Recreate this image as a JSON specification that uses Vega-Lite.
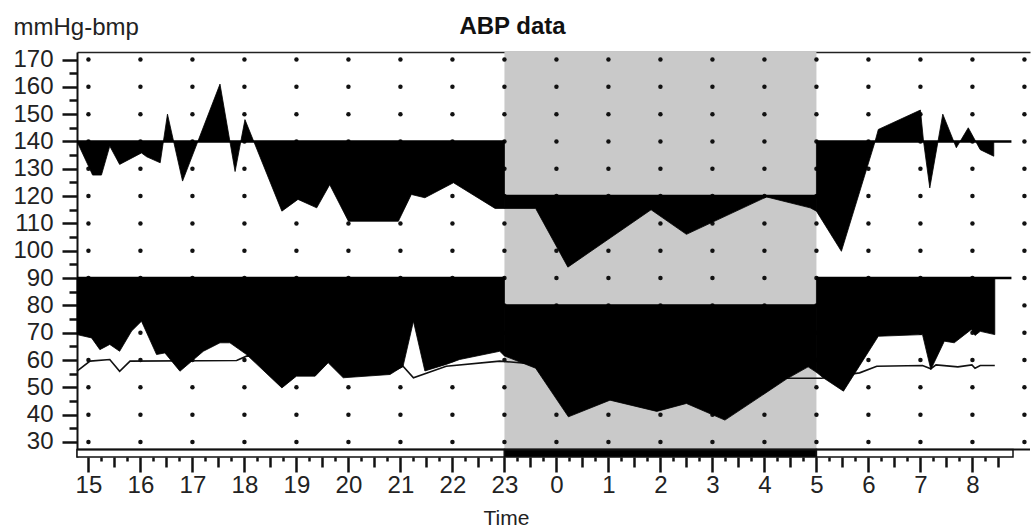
{
"$schema": "https://vega.github.io/schema/vega-lite/v6.json",
"width": 953, "height": 405,
"autosize": "none",
"padding": {"left": 77, "top": 52, "right": 1, "bottom": 72},
"background": "white",
"config": {"view": {"stroke": null}, "font": "Liberation Sans", "axis": {"grid": false, "labelFont": "Liberation Sans", "titleFont": "Liberation Sans"}},
"resolve": {"axis": {"x": "independent", "y": "independent"}},
"datasets": {
"dots": [
{"h":15,"v":30},{"h":15,"v":40},{"h":15,"v":50},{"h":15,"v":60},{"h":15,"v":70},{"h":15,"v":80},{"h":15,"v":90},{"h":15,"v":100},{"h":15,"v":110},{"h":15,"v":120},{"h":15,"v":130},{"h":15,"v":140},{"h":15,"v":150},{"h":15,"v":160},{"h":15,"v":170},
{"h":16,"v":30},{"h":16,"v":40},{"h":16,"v":50},{"h":16,"v":60},{"h":16,"v":70},{"h":16,"v":80},{"h":16,"v":90},{"h":16,"v":100},{"h":16,"v":110},{"h":16,"v":120},{"h":16,"v":130},{"h":16,"v":140},{"h":16,"v":150},{"h":16,"v":160},{"h":16,"v":170},
{"h":17,"v":30},{"h":17,"v":40},{"h":17,"v":50},{"h":17,"v":60},{"h":17,"v":70},{"h":17,"v":80},{"h":17,"v":90},{"h":17,"v":100},{"h":17,"v":110},{"h":17,"v":120},{"h":17,"v":130},{"h":17,"v":140},{"h":17,"v":150},{"h":17,"v":160},{"h":17,"v":170},
{"h":18,"v":30},{"h":18,"v":40},{"h":18,"v":50},{"h":18,"v":60},{"h":18,"v":70},{"h":18,"v":80},{"h":18,"v":90},{"h":18,"v":100},{"h":18,"v":110},{"h":18,"v":120},{"h":18,"v":130},{"h":18,"v":140},{"h":18,"v":150},{"h":18,"v":160},{"h":18,"v":170},
{"h":19,"v":30},{"h":19,"v":40},{"h":19,"v":50},{"h":19,"v":60},{"h":19,"v":70},{"h":19,"v":80},{"h":19,"v":90},{"h":19,"v":100},{"h":19,"v":110},{"h":19,"v":120},{"h":19,"v":130},{"h":19,"v":140},{"h":19,"v":150},{"h":19,"v":160},{"h":19,"v":170},
{"h":20,"v":30},{"h":20,"v":40},{"h":20,"v":50},{"h":20,"v":60},{"h":20,"v":70},{"h":20,"v":80},{"h":20,"v":90},{"h":20,"v":100},{"h":20,"v":110},{"h":20,"v":120},{"h":20,"v":130},{"h":20,"v":140},{"h":20,"v":150},{"h":20,"v":160},{"h":20,"v":170},
{"h":21,"v":30},{"h":21,"v":40},{"h":21,"v":50},{"h":21,"v":60},{"h":21,"v":70},{"h":21,"v":80},{"h":21,"v":90},{"h":21,"v":100},{"h":21,"v":110},{"h":21,"v":120},{"h":21,"v":130},{"h":21,"v":140},{"h":21,"v":150},{"h":21,"v":160},{"h":21,"v":170},
{"h":22,"v":30},{"h":22,"v":40},{"h":22,"v":50},{"h":22,"v":60},{"h":22,"v":70},{"h":22,"v":80},{"h":22,"v":90},{"h":22,"v":100},{"h":22,"v":110},{"h":22,"v":120},{"h":22,"v":130},{"h":22,"v":140},{"h":22,"v":150},{"h":22,"v":160},{"h":22,"v":170},
{"h":23,"v":30},{"h":23,"v":40},{"h":23,"v":50},{"h":23,"v":60},{"h":23,"v":70},{"h":23,"v":80},{"h":23,"v":90},{"h":23,"v":100},{"h":23,"v":110},{"h":23,"v":120},{"h":23,"v":130},{"h":23,"v":140},{"h":23,"v":150},{"h":23,"v":160},{"h":23,"v":170},
{"h":24,"v":30},{"h":24,"v":40},{"h":24,"v":50},{"h":24,"v":60},{"h":24,"v":70},{"h":24,"v":80},{"h":24,"v":90},{"h":24,"v":100},{"h":24,"v":110},{"h":24,"v":120},{"h":24,"v":130},{"h":24,"v":140},{"h":24,"v":150},{"h":24,"v":160},{"h":24,"v":170},
{"h":25,"v":30},{"h":25,"v":40},{"h":25,"v":50},{"h":25,"v":60},{"h":25,"v":70},{"h":25,"v":80},{"h":25,"v":90},{"h":25,"v":100},{"h":25,"v":110},{"h":25,"v":120},{"h":25,"v":130},{"h":25,"v":140},{"h":25,"v":150},{"h":25,"v":160},{"h":25,"v":170},
{"h":26,"v":30},{"h":26,"v":40},{"h":26,"v":50},{"h":26,"v":60},{"h":26,"v":70},{"h":26,"v":80},{"h":26,"v":90},{"h":26,"v":100},{"h":26,"v":110},{"h":26,"v":120},{"h":26,"v":130},{"h":26,"v":140},{"h":26,"v":150},{"h":26,"v":160},{"h":26,"v":170},
{"h":27,"v":30},{"h":27,"v":40},{"h":27,"v":50},{"h":27,"v":60},{"h":27,"v":70},{"h":27,"v":80},{"h":27,"v":90},{"h":27,"v":100},{"h":27,"v":110},{"h":27,"v":120},{"h":27,"v":130},{"h":27,"v":140},{"h":27,"v":150},{"h":27,"v":160},{"h":27,"v":170},
{"h":28,"v":30},{"h":28,"v":40},{"h":28,"v":50},{"h":28,"v":60},{"h":28,"v":70},{"h":28,"v":80},{"h":28,"v":90},{"h":28,"v":100},{"h":28,"v":110},{"h":28,"v":120},{"h":28,"v":130},{"h":28,"v":140},{"h":28,"v":150},{"h":28,"v":160},{"h":28,"v":170},
{"h":29,"v":30},{"h":29,"v":40},{"h":29,"v":50},{"h":29,"v":60},{"h":29,"v":70},{"h":29,"v":80},{"h":29,"v":90},{"h":29,"v":100},{"h":29,"v":110},{"h":29,"v":120},{"h":29,"v":130},{"h":29,"v":140},{"h":29,"v":150},{"h":29,"v":160},{"h":29,"v":170},
{"h":30,"v":30},{"h":30,"v":40},{"h":30,"v":50},{"h":30,"v":60},{"h":30,"v":70},{"h":30,"v":80},{"h":30,"v":90},{"h":30,"v":100},{"h":30,"v":110},{"h":30,"v":120},{"h":30,"v":130},{"h":30,"v":140},{"h":30,"v":150},{"h":30,"v":160},{"h":30,"v":170},
{"h":31,"v":30},{"h":31,"v":40},{"h":31,"v":50},{"h":31,"v":60},{"h":31,"v":70},{"h":31,"v":80},{"h":31,"v":90},{"h":31,"v":100},{"h":31,"v":110},{"h":31,"v":120},{"h":31,"v":130},{"h":31,"v":140},{"h":31,"v":150},{"h":31,"v":160},{"h":31,"v":170},
{"h":32,"v":30},{"h":32,"v":40},{"h":32,"v":50},{"h":32,"v":60},{"h":32,"v":70},{"h":32,"v":80},{"h":32,"v":90},{"h":32,"v":100},{"h":32,"v":110},{"h":32,"v":120},{"h":32,"v":130},{"h":32,"v":140},{"h":32,"v":150},{"h":32,"v":160},{"h":32,"v":170},
{"h":33,"v":30},{"h":33,"v":40},{"h":33,"v":50},{"h":33,"v":60},{"h":33,"v":70},{"h":33,"v":80},{"h":33,"v":90},{"h":33,"v":100},{"h":33,"v":110},{"h":33,"v":120},{"h":33,"v":130},{"h":33,"v":140},{"h":33,"v":150},{"h":33,"v":160},{"h":33,"v":170}
],
"sys": [
{"t":14.78,"sys":140,"thr":140,"seg":"d1"},{"t":15.0,"sys":131,"thr":140,"seg":"d1"},{"t":15.08,"sys":127.7,"thr":140,"seg":"d1"},{"t":15.25,"sys":127.7,"thr":140,"seg":"d1"},{"t":15.41,"sys":138.3,"thr":140,"seg":"d1"},{"t":15.6,"sys":131.6,"thr":140,"seg":"d1"},{"t":16.02,"sys":135.8,"thr":140,"seg":"d1"},{"t":16.12,"sys":134.4,"thr":140,"seg":"d1"},{"t":16.38,"sys":132.2,"thr":140,"seg":"d1"},{"t":16.52,"sys":150,"thr":140,"seg":"d1"},{"t":16.81,"sys":125.5,"thr":140,"seg":"d1"},{"t":17.53,"sys":161,"thr":140,"seg":"d1"},{"t":17.82,"sys":129,"thr":140,"seg":"d1"},{"t":18.01,"sys":148,"thr":140,"seg":"d1"},{"t":18.72,"sys":114.5,"thr":140,"seg":"d1"},{"t":19.03,"sys":118.8,"thr":140,"seg":"d1"},{"t":19.39,"sys":115.7,"thr":140,"seg":"d1"},{"t":19.64,"sys":124.2,"thr":140,"seg":"d1"},{"t":20.0,"sys":110.8,"thr":140,"seg":"d1"},{"t":20.96,"sys":110.8,"thr":140,"seg":"d1"},{"t":21.21,"sys":120.6,"thr":140,"seg":"d1"},{"t":21.47,"sys":119.4,"thr":140,"seg":"d1"},{"t":22.02,"sys":124.9,"thr":140,"seg":"d1"},{"t":22.82,"sys":115.5,"thr":140,"seg":"d1"},{"t":23.0,"sys":115.5,"thr":140,"seg":"d1"},
{"t":23.0,"sys":115.5,"thr":120,"seg":"n"},{"t":23.6,"sys":115.5,"thr":120,"seg":"n"},{"t":24.22,"sys":94,"thr":120,"seg":"n"},{"t":25.82,"sys":115,"thr":120,"seg":"n"},{"t":26.5,"sys":106,"thr":120,"seg":"n"},{"t":28.04,"sys":119.7,"thr":120,"seg":"n"},{"t":28.88,"sys":115.7,"thr":120,"seg":"n"},{"t":29.0,"sys":114.5,"thr":120,"seg":"n"},
{"t":29.0,"sys":114.5,"thr":140,"seg":"d2"},{"t":29.48,"sys":99.8,"thr":140,"seg":"d2"},{"t":30.12,"sys":139.5,"thr":140,"seg":"d2"},{"t":30.19,"sys":144.4,"thr":140,"seg":"d2"},{"t":31.0,"sys":151.5,"thr":140,"seg":"d2"},{"t":31.06,"sys":140,"thr":140,"seg":"d2"},{"t":31.18,"sys":123,"thr":140,"seg":"d2"},{"t":31.43,"sys":150,"thr":140,"seg":"d2"},{"t":31.69,"sys":137.7,"thr":140,"seg":"d2"},{"t":31.92,"sys":145,"thr":140,"seg":"d2"},{"t":32.15,"sys":137,"thr":140,"seg":"d2"},{"t":32.41,"sys":134.6,"thr":140,"seg":"d2"}
],
"dia": [
{"t":14.78,"dia":69.3,"thr":90,"seg":"d1"},{"t":15.06,"dia":68.1,"thr":90,"seg":"d1"},{"t":15.22,"dia":63.8,"thr":90,"seg":"d1"},{"t":15.41,"dia":65.7,"thr":90,"seg":"d1"},{"t":15.6,"dia":63.2,"thr":90,"seg":"d1"},{"t":15.83,"dia":70.6,"thr":90,"seg":"d1"},{"t":16.02,"dia":74.2,"thr":90,"seg":"d1"},{"t":16.31,"dia":62,"thr":90,"seg":"d1"},{"t":16.47,"dia":62.6,"thr":90,"seg":"d1"},{"t":16.76,"dia":55.9,"thr":90,"seg":"d1"},{"t":17.21,"dia":63.2,"thr":90,"seg":"d1"},{"t":17.53,"dia":66.3,"thr":90,"seg":"d1"},{"t":17.72,"dia":66.3,"thr":90,"seg":"d1"},{"t":18.04,"dia":62,"thr":90,"seg":"d1"},{"t":18.72,"dia":49.8,"thr":90,"seg":"d1"},{"t":19.0,"dia":54.1,"thr":90,"seg":"d1"},{"t":19.36,"dia":54.1,"thr":90,"seg":"d1"},{"t":19.61,"dia":59,"thr":90,"seg":"d1"},{"t":19.9,"dia":53.5,"thr":90,"seg":"d1"},{"t":20.8,"dia":54.7,"thr":90,"seg":"d1"},{"t":21.05,"dia":57.7,"thr":90,"seg":"d1"},{"t":21.25,"dia":74.2,"thr":90,"seg":"d1"},{"t":21.47,"dia":56,"thr":90,"seg":"d1"},{"t":21.88,"dia":58.4,"thr":90,"seg":"d1"},{"t":22.14,"dia":60.2,"thr":90,"seg":"d1"},{"t":22.91,"dia":63.2,"thr":90,"seg":"d1"},{"t":23.0,"dia":61.5,"thr":90,"seg":"d1"},
{"t":23.0,"dia":61.5,"thr":80,"seg":"n"},{"t":23.6,"dia":57,"thr":80,"seg":"n"},{"t":24.23,"dia":39.2,"thr":80,"seg":"n"},{"t":25.03,"dia":45.3,"thr":80,"seg":"n"},{"t":25.93,"dia":41.2,"thr":80,"seg":"n"},{"t":26.5,"dia":44.1,"thr":80,"seg":"n"},{"t":27.24,"dia":38,"thr":80,"seg":"n"},{"t":28.43,"dia":53.1,"thr":80,"seg":"n"},{"t":28.84,"dia":57.5,"thr":80,"seg":"n"},{"t":29.0,"dia":55.5,"thr":80,"seg":"n"},
{"t":29.0,"dia":55.5,"thr":90,"seg":"d2"},{"t":29.13,"dia":53.5,"thr":90,"seg":"d2"},{"t":29.52,"dia":48.6,"thr":90,"seg":"d2"},{"t":30.19,"dia":68.7,"thr":90,"seg":"d2"},{"t":31.04,"dia":69.3,"thr":90,"seg":"d2"},{"t":31.2,"dia":56.5,"thr":90,"seg":"d2"},{"t":31.46,"dia":66.9,"thr":90,"seg":"d2"},{"t":31.65,"dia":66.3,"thr":90,"seg":"d2"},{"t":31.98,"dia":71.2,"thr":90,"seg":"d2"},{"t":32.05,"dia":69,"thr":90,"seg":"d2"},{"t":32.15,"dia":70.5,"thr":90,"seg":"d2"},{"t":32.43,"dia":69.3,"thr":90,"seg":"d2"}
],
"hr": [
{"t":14.78,"hr":55.9},{"t":15.03,"hr":59.6},{"t":15.41,"hr":60.2},{"t":15.6,"hr":55.9},{"t":15.8,"hr":59.6},{"t":17.85,"hr":59.8},{"t":18.05,"hr":61.5},{"t":18.6,"hr":60.5},{"t":19.6,"hr":60},{"t":20.3,"hr":58},{"t":20.8,"hr":55.5},{"t":21.05,"hr":57.7},{"t":21.25,"hr":53.5},{"t":21.88,"hr":57.7},{"t":22.91,"hr":59.6},{"t":23.6,"hr":58.5},{"t":24.5,"hr":57},{"t":26,"hr":55},{"t":27.5,"hr":54},{"t":28.43,"hr":53.3},{"t":29.1,"hr":53.3},{"t":29.83,"hr":55.3},{"t":30.16,"hr":57.7},{"t":31.04,"hr":58},{"t":31.2,"hr":56.8},{"t":31.3,"hr":58.2},{"t":31.72,"hr":57.5},{"t":31.99,"hr":58.2},{"t":32.05,"hr":57},{"t":32.15,"hr":58},{"t":32.43,"hr":58}
],
"limits": [
{"from":14.78,"to":23,"v":140},{"from":23,"to":29,"v":120},{"from":29,"to":32.75,"v":140},
{"from":14.78,"to":23,"v":90},{"from":23,"to":29,"v":80},{"from":29,"to":32.75,"v":90}
],
"period": [
{"from":14.78,"to":23,"kind":"day"},{"from":23,"to":29,"kind":"night"},{"from":29,"to":32.78,"kind":"day"}
]
},
"layer": [
{
"data": {"values": [{"from": 23, "to": 29}]},
"mark": {"type": "rect", "fill": "#c9c9c9"},
"encoding": {
"x": {"field": "from", "type": "quantitative", "scale": {"domain": [14.78, 33.107], "nice": false, "zero": false}, "axis": null},
"x2": {"field": "to"},
"y": {"datum": 27.25, "type": "quantitative", "scale": {"domain": [24.5, 172.75], "nice": false, "zero": false}, "axis": null},
"y2": {"datum": 172.75}
}
},
{
"data": {"name": "dots"},
"mark": {"type": "point", "shape": "circle", "filled": true, "size": 20, "color": "#111", "opacity": 1},
"encoding": {
"x": {"field": "h", "type": "quantitative", "scale": {"domain": [14.78, 33.107], "nice": false, "zero": false},
"axis": {"orient": "bottom", "values": [15,16,17,18,19,20,21,22,23,24,25,26,27,28,29,30,31,32], "tickSize": 15, "tickWidth": 2.5, "tickColor": "#111", "domain": false, "labelFontSize": 24, "labelColor": "#222", "labelPadding": 1, "labelFlush": false, "labelOverlap": false, "labelExpr": "'' + (datum.value >= 24 ? datum.value - 24 : datum.value)", "title": "Time", "titleFontSize": 21, "titleFontWeight": "normal", "titleColor": "#222", "titleX": 429, "titleY": 67, "titleAlign": "center", "titleBaseline": "alphabetic"}},
"y": {"field": "v", "type": "quantitative", "scale": {"domain": [24.5, 172.75], "nice": false, "zero": false},
"axis": {"orient": "left", "values": [30,40,50,60,70,80,90,100,110,120,130,140,150,160,170], "tickSize": 15, "tickWidth": 2.5, "tickColor": "#111", "domain": true, "domainWidth": 2, "domainColor": "#111", "labelFontSize": 24, "labelColor": "#222", "labelPadding": 9, "labelFlush": false, "labelOverlap": false, "title": "mmHg-bmp", "titleAngle": 0, "titleX": -64, "titleY": -18, "titleAlign": "left", "titleBaseline": "alphabetic", "titleFontSize": 24, "titleFontWeight": "normal", "titleColor": "#222"}}
}
},
{
"data": {"name": "hr"},
"mark": {"type": "line", "color": "#111", "strokeWidth": 1.6, "interpolate": "linear"},
"encoding": {
"x": {"field": "t", "type": "quantitative", "scale": {"domain": [14.78, 33.107], "nice": false, "zero": false},
"axis": {"orient": "bottom", "values": [15.5,16.5,17.5,18.5,19.5,20.5,21.5,22.5,23.5,24.5,25.5,26.5,27.5,28.5,29.5,30.5,31.5,32.5], "tickSize": 10, "tickWidth": 2.5, "tickColor": "#111", "domain": false, "labels": false, "title": null}},
"y": {"field": "hr", "type": "quantitative", "scale": {"domain": [24.5, 172.75], "nice": false, "zero": false},
"axis": {"orient": "left", "values": [35,45,55,65,75,85,95,105,115,125,135,145,155,165], "tickSize": 8, "tickWidth": 2.5, "tickColor": "#111", "domain": false, "labels": false, "title": null}}
}
},
{
"data": {"name": "sys"},
"mark": {"type": "area", "color": "black", "stroke": "black", "strokeWidth": 0.8, "interpolate": "linear"},
"encoding": {
"x": {"field": "t", "type": "quantitative", "scale": {"domain": [14.78, 33.107], "nice": false, "zero": false},
"axis": {"orient": "bottom", "values": [15.25,15.75,16.25,16.75,17.25,17.75,18.25,18.75,19.25,19.75,20.25,20.75,21.25,21.75,22.25,22.75,23.25,23.75,24.25,24.75,25.25,25.75,26.25,26.75,27.25,27.75,28.25,28.75,29.25,29.75,30.25,30.75,31.25,31.75,32.25], "tickSize": 4, "tickWidth": 2.5, "tickColor": "#111", "domain": false, "labels": false, "title": null}},
"y": {"field": "sys", "type": "quantitative", "scale": {"domain": [24.5, 172.75], "nice": false, "zero": false}, "axis": null},
"y2": {"field": "thr"},
"detail": {"field": "seg"}
}
},
{
"data": {"name": "dia"},
"mark": {"type": "area", "color": "black", "stroke": "black", "strokeWidth": 0.8, "interpolate": "linear"},
"encoding": {
"x": {"field": "t", "type": "quantitative", "scale": {"domain": [14.78, 33.107], "nice": false, "zero": false},
"axis": {"orient": "top", "domain": true, "domainColor": "#222", "domainWidth": 1.5, "ticks": false, "labels": false, "title": "ABP data", "titleFontSize": 24, "titleFontWeight": "bold", "titleColor": "#111", "titleX": 435, "titleY": -19, "titleAlign": "center", "titleBaseline": "alphabetic"}},
"y": {"field": "dia", "type": "quantitative", "scale": {"domain": [24.5, 172.75], "nice": false, "zero": false}, "axis": null},
"y2": {"field": "thr"},
"detail": {"field": "seg"}
}
},
{
"data": {"name": "limits"},
"mark": {"type": "rule", "color": "black", "strokeWidth": 2.5},
"encoding": {
"x": {"field": "from", "type": "quantitative", "scale": {"domain": [14.78, 33.107], "nice": false, "zero": false}, "axis": null},
"x2": {"field": "to"},
"y": {"field": "v", "type": "quantitative", "scale": {"domain": [24.5, 172.75], "nice": false, "zero": false}, "axis": null}
}
},
{
"data": {"name": "period"},
"mark": {"type": "rect", "stroke": "#111", "strokeWidth": 1.5},
"encoding": {
"x": {"field": "from", "type": "quantitative", "scale": {"domain": [14.78, 33.107], "nice": false, "zero": false}, "axis": null},
"x2": {"field": "to"},
"y": {"datum": 24.5, "type": "quantitative", "scale": {"domain": [24.5, 172.75], "nice": false, "zero": false}, "axis": null},
"y2": {"datum": 27.25},
"fill": {"field": "kind", "type": "nominal", "scale": {"domain": ["day", "night"], "range": ["white", "black"]}, "legend": null}
}
},
{
"data": {"values": [{"from": 14.78, "to": 33.107, "v": 27.25}]},
"mark": {"type": "rule", "color": "#111", "strokeWidth": 2},
"encoding": {
"x": {"field": "from", "type": "quantitative", "scale": {"domain": [14.78, 33.107], "nice": false, "zero": false}, "axis": null},
"x2": {"field": "to"},
"y": {"field": "v", "type": "quantitative", "scale": {"domain": [24.5, 172.75], "nice": false, "zero": false}, "axis": null}
}
}
]
}
